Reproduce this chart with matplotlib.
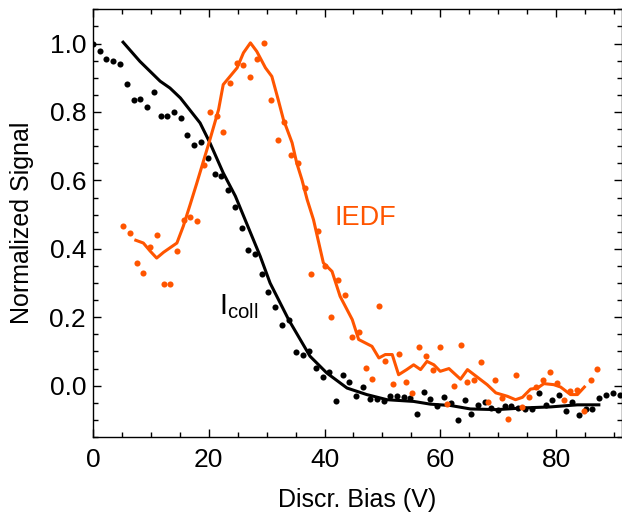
import matplotlib
matplotlib.use("Agg")
import matplotlib.pyplot as plt
from matplotlib.ticker import MultipleLocator, FormatStrFormatter

plt.rcParams['font.family'] = ['Liberation Sans', 'DejaVu Sans']
plt.rcParams['mathtext.fontset'] = 'custom'
plt.rcParams['mathtext.rm'] = 'Liberation Sans'

ORANGE = '#FF5500'

# Collected current (black dots)
icoll_x = [0.0, 1.2, 2.3, 3.5, 4.7, 5.8, 7.0, 8.2, 9.3, 10.5, 11.7, 12.8, 14.0, 15.2, 16.3,
           17.5, 18.7, 19.8, 21.0, 22.2, 23.3, 24.5, 25.7, 26.8, 28.0, 29.2, 30.3, 31.5,
           32.7, 33.8, 35.0, 36.2, 37.3, 38.5, 39.7, 40.8, 42.0, 43.2, 44.3, 45.5, 46.7,
           47.8, 49.0, 50.2, 51.3, 52.5, 53.7, 54.8, 56.0, 57.2, 58.3, 59.5, 60.7, 61.8,
           63.0, 64.2, 65.3, 66.5, 67.7, 68.8, 70.0, 71.2, 72.3, 73.5, 74.7, 75.8, 77.0,
           78.2, 79.3, 80.5, 81.7, 82.8, 84.0, 85.2, 86.3, 87.5, 88.7, 89.8, 91.0]
icoll_y = [1.000, 0.977, 0.955, 0.950, 0.939, 0.882, 0.836, 0.838, 0.815, 0.858, 0.788,
           0.788, 0.799, 0.781, 0.734, 0.703, 0.713, 0.666, 0.619, 0.614, 0.573, 0.522,
           0.460, 0.396, 0.386, 0.325, 0.273, 0.229, 0.177, 0.192, 0.098, 0.089, 0.102,
           0.052, 0.026, 0.039, -0.044, 0.031, 0.010, -0.029, -0.003, -0.039, -0.039,
           -0.046, -0.029, -0.031, -0.033, -0.036, -0.083, -0.018, -0.039, -0.060,
           -0.033, -0.050, -0.099, -0.041, -0.083, -0.056, -0.047, -0.065, -0.072,
           -0.058, -0.058, -0.066, -0.067, -0.067, -0.020, -0.056, -0.041, -0.028,
           -0.075, -0.048, -0.086, -0.067, -0.068, -0.037, -0.028, -0.021, -0.028]

# Smoothed collected current (black line)
icoll_fit_x = [5.2, 8.1, 11.6, 13.3, 15.1, 18.5, 20.2, 22.5, 24.6, 28.9, 30.6, 33.8, 37.5,
               40.4, 43.9, 47.3, 50.8, 55.4, 58.3, 61.8, 65.2, 69.8, 74.4, 79.1, 83.7, 87.4]
icoll_fit_y = [1.004, 0.948, 0.890, 0.870, 0.841, 0.768, 0.710, 0.622, 0.554, 0.378, 0.300,
               0.193, 0.086, 0.037, -0.007, -0.026, -0.041, -0.046, -0.054, -0.058,
               -0.068, -0.070, -0.065, -0.062, -0.056, -0.056]

# IEDF (orange dots)
iedf_x = [5.25, 6.4, 7.6, 8.7, 9.9, 11.0, 12.2, 13.3, 14.6, 15.7, 16.8, 17.9, 19.1, 20.2,
          21.4, 22.5, 23.7, 24.9, 26.0, 27.2, 28.3, 29.5, 30.7, 32.0, 33.0, 34.2, 35.4,
          36.6, 37.7, 38.9, 40.0, 41.2, 42.3, 43.6, 44.8, 45.9, 47.1, 48.2, 49.4, 50.5,
          51.8, 52.9, 54.1, 55.2, 56.4, 57.6, 58.7, 59.9, 61.2, 62.3, 63.5, 64.7, 65.8,
          67.1, 68.2, 69.4, 70.6, 71.7, 73.0, 74.2, 75.3, 76.5, 77.7, 78.9, 80.1, 81.3,
          82.4, 83.7, 84.8, 86.0, 87.1]
iedf_y = [0.468, 0.445, 0.358, 0.328, 0.406, 0.439, 0.298, 0.298, 0.395, 0.483, 0.493,
          0.481, 0.646, 0.800, 0.789, 0.741, 0.884, 0.944, 0.938, 0.903, 0.954, 1.002,
          0.835, 0.718, 0.770, 0.674, 0.650, 0.578, 0.327, 0.453, 0.350, 0.201, 0.310,
          0.264, 0.141, 0.156, 0.051, 0.020, 0.233, 0.072, 0.004, 0.094, 0.010, -0.021,
          0.112, 0.086, 0.045, 0.113, -0.053, 0.000, 0.120, 0.012, 0.018, 0.069, -0.049,
          0.017, -0.036, -0.097, 0.032, -0.062, -0.032, -0.004, 0.018, 0.040, 0.008,
          -0.041, -0.015, -0.014, -0.075, 0.018, 0.049]

# Smoothed IEDF (orange line)
iedf_fit_x = [7.4, 8.7, 9.9, 11.0, 12.2, 14.5, 15.6, 16.8, 17.9, 20.2, 21.7, 22.5, 24.9,
              26.0, 27.2, 28.3, 29.8, 30.9, 32.0, 32.9, 34.4, 35.2, 36.1, 37.0, 38.1, 39.8,
              41.3, 42.7, 44.8, 45.9, 48.2, 49.4, 50.5, 51.7, 52.8, 54.2, 55.4, 56.6, 57.7,
              58.9, 60.0, 61.5, 63.5, 64.7, 66.4, 68.1, 69.6, 71.6, 73.0, 74.2, 75.6, 76.8,
              77.9, 79.6, 80.8, 82.5, 83.7, 84.9]
iedf_fit_y = [0.425, 0.417, 0.393, 0.373, 0.390, 0.417, 0.466, 0.530, 0.590, 0.719, 0.807,
              0.880, 0.929, 0.973, 1.002, 0.977, 0.929, 0.904, 0.836, 0.778, 0.710, 0.651,
              0.602, 0.544, 0.485, 0.359, 0.334, 0.261, 0.193, 0.135, 0.115, 0.081, 0.091,
              0.091, 0.032, 0.047, 0.061, 0.047, 0.071, 0.061, 0.042, 0.050, 0.019, 0.047,
              0.025, 0.003, -0.021, -0.031, -0.041, -0.034, -0.010, -0.007, 0.006, 0.003,
              -0.004, -0.026, -0.026, -0.004]

fig = plt.figure(figsize=(6.22, 5.19), dpi=100)
ax = fig.add_axes([0.1495, 0.158, 0.8505, 0.824])

ax.plot(icoll_x, icoll_y, 'o', color='black', ms=4.4, mec='none', zorder=2)
ax.plot(icoll_fit_x, icoll_fit_y, '-', color='black', lw=2.2, zorder=3)
ax.plot(iedf_x, iedf_y, 'o', color=ORANGE, ms=4.4, mec='none', zorder=4)
ax.plot(iedf_fit_x, iedf_fit_y, '-', color=ORANGE, lw=2.2, zorder=5)

ax.text(41.8, 0.47, 'IEDF', color=ORANGE, fontsize=19.5)
ax.text(21.8, 0.208, r'I$_{\mathregular{coll}}$', color='black', fontsize=21)

ax.set_xlim(0, 91.4)
ax.set_ylim(-0.15, 1.10)
ax.xaxis.set_major_locator(MultipleLocator(20))
ax.xaxis.set_minor_locator(MultipleLocator(5))
ax.yaxis.set_major_locator(MultipleLocator(0.2))
ax.yaxis.set_minor_locator(MultipleLocator(0.05))
ax.yaxis.set_major_formatter(FormatStrFormatter('%.1f'))
ax.tick_params(which='both', direction='in', top=True, right=True, labelsize=19, width=1.0)
ax.tick_params(which='major', length=6)
ax.tick_params(which='minor', length=3.5)
ax.tick_params(axis='x', pad=8)
ax.tick_params(axis='y', pad=5)
for s in ax.spines.values():
    s.set_linewidth(1.0)

ax.set_xlabel('Discr. Bias (V)', fontsize=18, va='center')
ax.set_ylabel('Normalized Signal', fontsize=18, va='center')
ax.xaxis.set_label_coords((357 - 93) / 529, (437 - 500) / 427.7)
ax.yaxis.set_label_coords((22 - 93) / 529, 0.5)

fig.savefig('out.png', dpi=100)
